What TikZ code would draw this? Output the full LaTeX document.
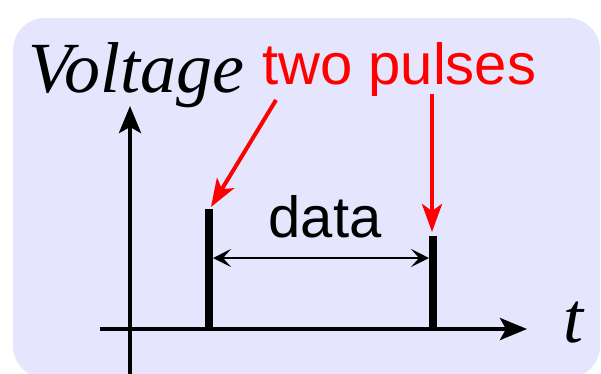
\documentclass[tikz,border=0pt]{standalone}
\usepackage{fontspec}
\setmainfont{Liberation Serif}
\newfontfamily\arialfont{Liberation Sans}
\usetikzlibrary{arrows.meta}
\definecolor{lavender}{RGB}{229,229,253}

\begin{document}
\begin{tikzpicture}[x=1pt,y=-1pt,
  axis/.style={line width=4pt,-{Stealth[length=27pt,width=22pt,inset=6pt]}},
  pulse/.style={line width=8pt},
  pointer/.style={red,line width=4pt,-{Stealth[length=28pt,width=20pt,inset=7pt]}},
  span/.style={line width=2pt,{Stealth[length=18pt,width=18pt,inset=8pt]}-{Stealth[length=18pt,width=18pt,inset=8pt]}},
  sans/.style={inner sep=0pt,font=\arialfont\fontsize{58}{64}\selectfont},
  serif/.style={inner sep=0pt,font=\fontsize{72}{80}\selectfont\itshape}]
  \useasboundingbox (0,0) rectangle (601,373);
  \clip (0,0) rectangle (601,373);
  \fill[lavender,rounded corners=32pt] (13,18) rectangle (600,378);

  \node[serif,anchor=base west] (volt) at (28,92) {Voltage};
  \node[sans,red,anchor=base west] (pulses) at (262,84) {two pulses};
  \node[sans,anchor=base] (data) at (325,237) {data};
  \node[serif,anchor=base west] (time) at (563,342) {t};

  \coordinate (o1) at (130,380);
  \coordinate (o2) at (130,106);
  \coordinate (h1) at (100,329);
  \coordinate (h2) at (527,329);
  \coordinate (p1) at (209,209);
  \coordinate (q1) at (209,329);
  \coordinate (p2) at (433,236);
  \coordinate (q2) at (433,329);
  \coordinate (d1) at (213,258);
  \coordinate (d2) at (429,258);
  \coordinate (s1) at (276,100);
  \coordinate (a1) at (211,207);
  \coordinate (s2) at (432,94);
  \coordinate (a2) at (432,232);

  \draw[axis] (o1) -- (o2);
  \draw[axis] (h1) -- (h2);
  \draw[pulse] (q1) -- (p1);
  \draw[pulse] (q2) -- (p2);
  \draw[span] (d1) -- (d2);
  \draw[pointer] (s1) -- (a1);
  \draw[pointer] (s2) -- (a2);
\end{tikzpicture}
\end{document}
